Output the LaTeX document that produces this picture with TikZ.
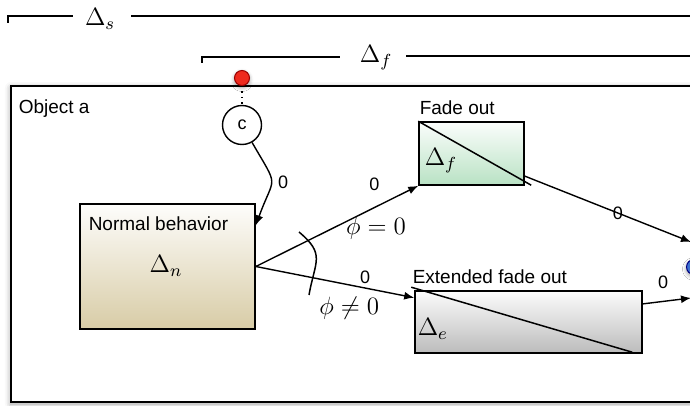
\RequirePackage{fix-cm}
\documentclass[tikz,border=0pt]{standalone}
\usepackage{fontspec}
\usetikzlibrary{arrows.meta,shadows.blur}
\newfontfamily\labelfont{Liberation Sans}
\definecolor{tanbg}{HTML}{D8CCA6}
\definecolor{greenbg}{HTML}{B9E2C4}
\definecolor{greybg}{HTML}{BCBCBC}
\definecolor{dotred}{HTML}{EE2A1E}
\definecolor{dotblue}{HTML}{3B6FD0}

\begin{document}
\begin{tikzpicture}[
  x=.5pt,y=-.5pt,line width=.75pt,
  lbl/.style={font=\labelfont\fontsize{9.5}{11}\selectfont,inner sep=0pt},
  zero/.style={font=\labelfont\fontsize{9}{10}\selectfont,inner sep=0pt},
  delta/.style={font=\fontsize{12.5}{14}\selectfont,inner sep=0pt},
  state/.style={draw,line width=.8pt,inner sep=0pt},
  flow/.style={-{Latex[length=5pt,width=4pt]},line width=.7pt},
  port/.style={circle,line width=.5pt,inner sep=0pt,minimum size=7.5pt,
               blur shadow={shadow xshift=0pt,shadow yshift=-1pt,shadow blur radius=2pt}}
]
\useasboundingbox (0,0) rectangle (690,406);
\clip (0,0) rectangle (690,406);

% Interval bars above the object.
\draw (8,23) |- (73,16);
\node[delta] (ds) at (100,19) {$\Delta_s$};
\draw (131,16) -- (700,16);
\draw (202,63) |- (340,57);
\node[delta] (dfbar) at (376,58) {$\Delta_f$};
\draw (406,56) -- (700,56);

% Object container with its input port.
\node[draw,line width=.9pt,fill=white,minimum width=344.5pt,minimum height=158pt,
      blur shadow={shadow xshift=0pt,shadow yshift=-1pt,shadow blur radius=3pt}]
  (obj) at (355.5,244) {};
\node[lbl,anchor=base west] (objname) at (18,114) {Object a};
\node[port,draw=red!60!black,fill=dotred] (start) at (242,78) {};
\node[circle,draw,line width=.7pt,minimum size=19.5pt,inner sep=0pt,
      font=\labelfont\fontsize{9}{10}\selectfont] (c) at (242,125) {c};
\draw[dotted] (start) -- (c);

% Behaviour states.
\node[state,top color=white!96!tanbg,bottom color=tanbg,
      minimum width=87.5pt,minimum height=62.5pt] (normal) at (167.5,266.5) {};
\node[lbl,anchor=base west] (normalname) at (88,231) {Normal behavior};
\node[delta] (dn) at (166,266) {$\Delta_n$};

\node[state,top color=white!94!greenbg,bottom color=greenbg,
      minimum width=52.5pt,minimum height=31.5pt] (fade) at (471.5,153.5) {};
\node[lbl,anchor=base west] (fadename) at (419,115) {Fade out};
\draw (fade.north west) -- ++(113,64);
\node[delta,anchor=west] (df) at (424,161) {$\Delta_f$};

\node[state,top color=white!95!greybg,bottom color=greybg,
      minimum width=113.5pt,minimum height=31pt] (ext) at (528.5,322) {};
\node[lbl,anchor=base west] (extname) at (412,283) {Extended fade out};
\draw (ext.north west) ++(-3,-3) -- ++(221,65);
\node[delta,anchor=west] (de) at (417,329) {$\Delta_e$};

% Next object, mostly outside the frame.
\node[port,draw=blue!50!black,fill=dotblue] (next) at (694,267) {};
\coordinate (exit1) at (691,242);
\coordinate (exit2) at (691,298);

% Transitions.
\draw[flow] (c) to[out=-60,in=70,looseness=1.7]
  node[zero,right=3pt,pos=.5] {0} (normal.25);
\draw[flow] (normal.east) -- node[zero,pos=.73,above=8pt] {0}
  node[delta,pos=.74,below=5pt] {$\phi=0$} (fade.south west);
\draw[flow] (normal.east) -- node[zero,pos=.69,above=2pt] {0}
  node[delta,pos=.59,below=6pt] {$\phi\neq0$} (ext.168);
\draw (299,232) to[out=-40,in=80,looseness=1.4] (309,295);
\draw[flow] (fade.-23) -- node[zero,pos=.56] {0} (exit1);
\draw[flow] (ext.9) -- node[zero,pos=.42,above=6pt] {0} (exit2);

\end{tikzpicture}
\end{document}
